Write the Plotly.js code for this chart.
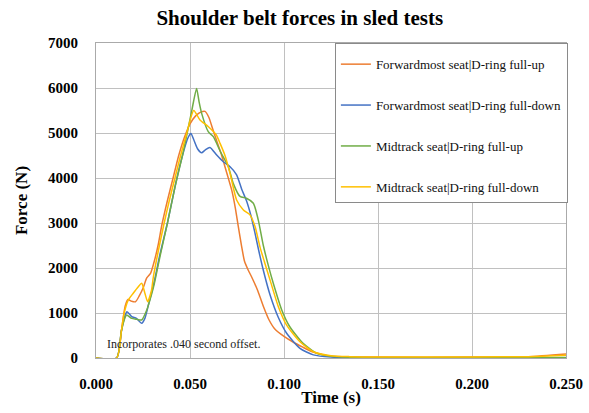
<!DOCTYPE html>
<html>
<head>
<meta charset="utf-8">
<script src="https://cdn.plot.ly/plotly-3.0.1.min.js"></script>
<style>html,body{margin:0;padding:0;background:#fff;}#chart{width:589px;height:413px;}</style>
</head>
<body>
<div id="chart"></div>
<script>
// Forwardmost seat | D-ring full-up (orange)
const fwdUpT = [0,0.011,0.0135,0.0155,0.017,0.019,0.021,0.023,0.025,0.027,0.029,0.031,0.033,0.035,0.038,0.041,0.044,0.047,0.050,0.053,0.056,0.058,0.060,0.062,0.064,0.0665,0.0686,0.0722,0.074,0.0757,0.0775,0.079,0.081,0.0828,0.086,0.089,0.092,0.095,0.100,0.105,0.110,0.115,0.120,0.125,0.135,0.150,0.200,0.230,0.250];
const fwdUpF = [0,0,600,1150,1300,1260,1250,1380,1550,1780,1880,2150,2500,2950,3500,4000,4500,4900,5200,5380,5470,5480,5350,5100,4850,4550,4250,3730,3360,2920,2470,2150,1950,1800,1500,1150,850,650,480,350,240,140,80,40,25,20,20,30,90];

// Forwardmost seat | D-ring full-down (blue)
const fwdDnT = [0,0.011,0.0135,0.0155,0.0165,0.019,0.0215,0.0243,0.026,0.028,0.031,0.034,0.038,0.0425,0.046,0.049,0.0505,0.052,0.054,0.0562,0.058,0.0606,0.0642,0.0677,0.0713,0.0748,0.0775,0.080,0.0825,0.0846,0.0865,0.089,0.0926,0.097,0.1014,0.1085,0.1156,0.125,0.140,0.250];
const fwdDnF = [0,0,600,950,1030,920,880,770,880,1200,1700,2300,3000,3900,4500,4900,4990,4850,4650,4560,4620,4680,4510,4360,4250,4070,3750,3500,3150,2770,2400,1950,1400,900,550,215,70,20,8,8];

// Midtrack seat | D-ring full-up (green)
const midUpT = [0,0.011,0.0135,0.0155,0.0163,0.019,0.0216,0.0243,0.027,0.0297,0.031,0.034,0.038,0.042,0.046,0.049,0.051,0.0535,0.0548,0.0562,0.0597,0.0624,0.066,0.0704,0.073,0.0766,0.080,0.0837,0.0863,0.089,0.0915,0.0943,0.0988,0.103,0.110,0.1174,0.125,0.140,0.250];
const midUpF = [0,0,600,900,955,880,860,845,1067,1437,1650,2250,3000,3800,4500,5100,5510,5990,5700,5437,5030,4918,4600,4252,3880,3590,3550,3440,3070,2500,2080,1660,1067,700,330,105,40,12,12];

// Midtrack seat | D-ring full-down (yellow)
const midDnT = [0,0.011,0.0135,0.015,0.0172,0.0198,0.0225,0.0243,0.026,0.0275,0.0295,0.0305,0.033,0.036,0.039,0.042,0.045,0.048,0.052,0.0553,0.0598,0.064,0.066,0.0686,0.0713,0.0748,0.0784,0.0819,0.0846,0.0872,0.0895,0.0926,0.097,0.1014,0.1085,0.1156,0.125,0.135,0.150,0.200,0.230,0.250];
const midDnF = [0,0,600,1000,1290,1440,1585,1660,1440,1250,1500,1800,2350,2950,3500,4000,4500,4950,5500,5290,5140,4955,4770,4500,4104,3510,3290,3180,2920,2470,2150,1730,1140,730,360,140,50,30,25,25,30,60];

const seriesNames = ["Forwardmost seat|D-ring full-up","Forwardmost seat|D-ring full-down","Midtrack seat|D-ring full-up","Midtrack seat|D-ring full-down"];
const seriesColors = ["#ED7D31","#4472C4","#70AD47","#FFC000"];
const xTickVals = [0,0.05,0.10,0.15,0.20,0.25];
const xTickText = ["0.000","0.050","0.100","0.150","0.200","0.250"];
const yTickVals = [0,1000,2000,3000,4000,5000,6000,7000];
const yTickText = ["0","1000","2000","3000","4000","5000","6000","7000"];

const xs = [fwdUpT, fwdDnT, midUpT, midDnT];
const ys = [fwdUpF, fwdDnF, midUpF, midDnF];
const serif = "Liberation Serif, Times New Roman, serif";

const traces = xs.map((x, i) => ({
  x: x, y: ys[i], type: "scatter", mode: "lines",
  name: seriesNames[i], legendgroup: "g" + i,
  line: {color: seriesColors[i], width: 1.5, shape: "spline", smoothing: 0.6}
}));

const layout = {
  width: 589, height: 413,
  margin: {l: 96, r: 23, t: 43, b: 55},
  paper_bgcolor: "#fff", plot_bgcolor: "#fff",
  title: {text: "<b>Shoulder belt forces in sled tests</b>", font: {family: serif, size: 21, color: "#000"},
          xref: "container", x: 0.509, xanchor: "center", yref: "container", y: 0.958, yanchor: "middle"},
  showlegend: true,
  legend: {x: 1.004, xanchor: "right", y: 1, yanchor: "top", bgcolor: "#fff",
           bordercolor: "#8a8a8a", borderwidth: 1, font: {family: serif, size: 13, color: "#111"},
           tracegroupgap: 21, itemwidth: 30,
           title: {text: " ", font: {family: serif, size: 4}}},
  xaxis: {range: [0, 0.25], tickvals: xTickVals, ticktext: xTickText, showgrid: true,
          gridcolor: "#c0c0c0", gridwidth: 1, zeroline: false, showline: true, linecolor: "#aaaaaa", mirror: true,
          ticks: "", ticklabelstandoff: 12, tickfont: {family: serif, size: 15, color: "#000", weight: "bold"},
          title: {text: "Time (s)", font: {family: serif, size: 17, color: "#000", weight: "bold"}, standoff: 0}},
  yaxis: {range: [0, 7000], tickvals: yTickVals, ticktext: yTickText, showgrid: true,
          gridcolor: "#c0c0c0", gridwidth: 1, zeroline: false, showline: true, linecolor: "#aaaaaa", mirror: true,
          ticks: "", ticklabelstandoff: 14, tickfont: {family: serif, size: 15, color: "#000", weight: "bold"},
          title: {text: "Force (N)", font: {family: serif, size: 17, color: "#000", weight: "bold"}, standoff: 16}},
  annotations: [{text: "Incorporates .040 second offset.", xref: "x", yref: "y", x: 0.005, y: 310,
                 xanchor: "left", yanchor: "middle", showarrow: false, font: {family: serif, size: 12, color: "#222"}}]
};

Plotly.newPlot("chart", traces, layout, {displayModeBar: false, staticPlot: true});
</script>
</body>
</html>
